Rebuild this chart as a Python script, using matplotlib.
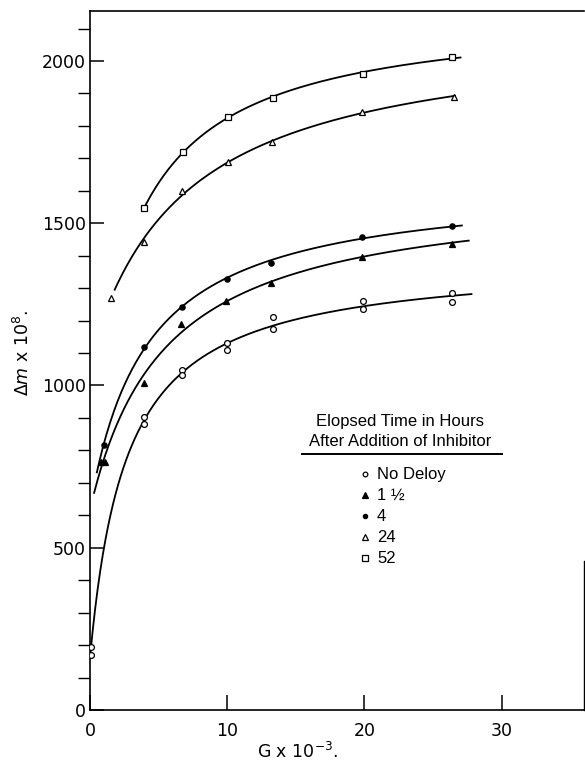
import numpy as np
import matplotlib
matplotlib.use("Agg")
import matplotlib.pyplot as plt

# G x 10^-3 and delta-m x 10^8 readings for each delay after inhibitor addition
nodelay_g = [0.05, 0.05, 3.9, 3.9, 6.7, 6.7, 10.0, 10.0, 13.3, 13.3, 19.9, 19.9, 26.4, 26.4]
nodelay_dm = [195, 170, 902, 881, 1048, 1032, 1132, 1109, 1212, 1174, 1261, 1237, 1284, 1256]

h1_5_g = [0.8, 1.1, 3.9, 6.6, 9.9, 13.2, 19.8, 26.4]
h1_5_dm = [765, 765, 1009, 1190, 1261, 1315, 1397, 1435]

h4_g = [1.0, 3.95, 6.7, 10.0, 13.2, 19.8, 26.4]
h4_dm = [817, 1120, 1243, 1329, 1376, 1459, 1492]

h24_g = [1.5, 3.95, 6.7, 10.05, 13.25, 19.8, 26.5]
h24_dm = [1270, 1441, 1600, 1688, 1749, 1842, 1890]

h52_g = [3.95, 6.75, 10.05, 13.3, 19.9, 26.4]
h52_dm = [1547, 1718, 1828, 1887, 1960, 2013]

labels = ["No Deloy", "1 \u00bd", "4", "24", "52"]


def fit_saturation(x, y):
    # least squares for y = a + b*x/(k+x), scanning k
    x = np.asarray(x, float)
    y = np.asarray(y, float)
    best = None
    for k in np.linspace(0.3, 20, 400):
        m = np.column_stack([np.ones_like(x), x / (k + x)])
        coef, res, _, _ = np.linalg.lstsq(m, y, rcond=None)
        err = np.sum((m @ coef - y) ** 2)
        if best is None or err < best[0]:
            best = (err, k, coef)
    _, k, (a, b) = best
    return lambda g: a + b * g / (k + g)


plt.rcParams["font.family"] = ["DejaVu Sans"]

fig = plt.figure(figsize=(5.85, 7.65), dpi=100)
ax = fig.add_axes([90 / 585, 55 / 765, 494 / 585, 699 / 765])

series = [
    (nodelay_g, nodelay_dm, dict(marker="o", mfc="white", ms=4.2), (0.0, 27.8)),
    (h1_5_g, h1_5_dm, dict(marker="^", mfc="black", ms=4.8), (0.3, 27.6)),
    (h4_g, h4_dm, dict(marker="o", mfc="black", ms=3.8), (0.5, 27.1)),
    (h24_g, h24_dm, dict(marker="^", mfc="white", ms=4.8), (1.8, 26.6)),
    (h52_g, h52_dm, dict(marker="s", mfc="white", ms=4.6), (3.9, 27.0)),
]

for (g, dm, style, (g0, g1)), lab in zip(series, labels):
    curve = fit_saturation(g, dm)
    gg = np.linspace(g0, g1, 300)
    ax.plot(gg, curve(gg), color="black", lw=1.3, zorder=2)
    ax.plot(g, dm, linestyle="none", color="black", mec="black", mew=0.9,
            zorder=3, **style)

ax.set_xlim(0, 36)
ax.set_ylim(0, 2154)
ax.set_xticks([0, 10, 20, 30])
ax.set_yticks([0, 500, 1000, 1500, 2000])
ax.set_yticks(np.arange(100, 2154, 100), minor=True)
ax.tick_params(axis="both", direction="in", labelsize=12.5, width=1.1)
ax.tick_params(axis="x", length=11, pad=9)
ax.tick_params(axis="y", which="major", length=10, pad=3)
ax.tick_params(axis="y", which="minor", length=9, width=1.0)

for side in ["left", "bottom", "top"]:
    ax.spines[side].set_linewidth(1.2)
ax.spines["right"].set_linewidth(1.0)
ax.spines["right"].set_bounds(0, 460)

ax.set_xlabel("G x 10$^{-3}$.", fontsize=12.5, va="center")
ax.xaxis.set_label_coords(0.421, -0.06)
ax.set_ylabel("$\\Delta m$ x 10$^8$.", fontsize=12.5, va="center")
ax.yaxis.set_label_coords(-0.135, 0.511)

# key drawn by hand: two title lines, rule, then marker rows
key_font = ["Liberation Sans", "DejaVu Sans"]
ax.text(0.6275, 0.4124, "Elopsed Time in Hours", transform=ax.transAxes,
        ha="center", va="center", fontsize=12, family=key_font)
ax.text(0.6285, 0.3838, "After Addition of Inhibitor", transform=ax.transAxes,
        ha="center", va="center", fontsize=12, family=key_font)
ax.plot([0.429, 0.834], [0.3658, 0.3658], transform=ax.transAxes,
        color="black", lw=1.4, clip_on=False)

rows_y = [0.3372, 0.3076, 0.2775, 0.2471, 0.2170]
for (g, dm, style, _), lab, ry in zip(series, labels, rows_y):
    key_style = dict(style)
    key_style["ms"] = style["ms"] * 0.8
    ax.plot([0.5567], [ry], transform=ax.transAxes, linestyle="none",
            color="black", mec="black", mew=0.9, clip_on=False, **key_style)
    ax.text(0.581, ry, lab, transform=ax.transAxes, ha="left", va="center",
            fontsize=12, family=key_font)

fig.savefig("out.png", dpi=100)
